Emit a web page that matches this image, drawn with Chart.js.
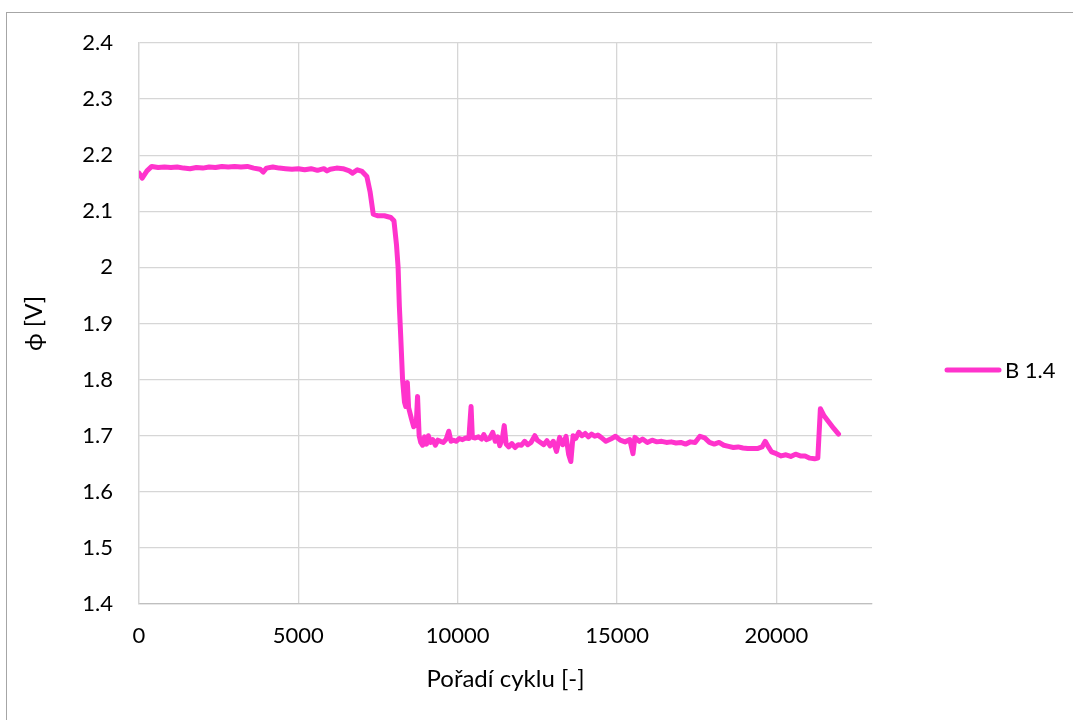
<!DOCTYPE html>
<html>
<head>
<meta charset="utf-8">
<script src="https://cdn.jsdelivr.net/npm/chart.js@4/dist/chart.umd.min.js"></script>
<style>
  html, body { margin: 0; padding: 0; background: #fff; overflow: hidden; }
  #wrap { position: relative; width: 1073px; height: 720px; }
  #frame { position: absolute; left: 6px; top: 12px; width: 2000px; height: 2000px;
           border-top: 1px solid #a6a6a6; border-left: 1px solid #a6a6a6; pointer-events: none; }
  canvas { position: absolute; left: 0; top: 0; }
</style>
</head>
<body>
<div id="wrap">
  <canvas id="c" width="1073" height="720"></canvas>
  <div id="frame"></div>
</div>
<script>
const seriesLabel = "B 1.4";
const xTitle = "Pořadí cyklu [-]";
const yTitle = "ϕ [V]";

const xTickValues = [0, 5000, 10000, 15000, 20000];

const cycles = [0,100,250,400,600,800,1000,1200,1400,1600,1800,2000,2200,2400,2600,2800,3000,3200,3400,3600,3800,3900,4000,4200,4400,4600,4800,5000,5200,5400,5600,5800,5900,6000,6200,6400,6600,6700,6850,7000,7150,7250,7350,7500,7700,7900,8000,8080,8130,8170,8210,8270,8330,8370,8420,8460,8550,8620,8700,8740,8790,8840,8900,8960,9020,9080,9150,9220,9300,9380,9460,9550,9640,9720,9790,9870,9950,10050,10150,10250,10350,10420,10460,10550,10650,10750,10820,10900,11000,11100,11180,11260,11320,11400,11460,11520,11600,11700,11800,11900,12000,12100,12200,12300,12420,12500,12600,12700,12800,12900,13000,13100,13200,13300,13400,13480,13550,13620,13700,13800,13900,14000,14100,14200,14300,14400,14500,14650,14800,14950,15100,15250,15400,15500,15560,15700,15800,15950,16100,16250,16400,16550,16700,16850,17000,17150,17300,17450,17600,17750,17900,18050,18200,18350,18500,18650,18800,18950,19100,19250,19400,19550,19650,19750,19850,20000,20150,20300,20450,20600,20750,20900,21050,21200,21300,21380,21500,21650,21800,21950];
const voltage = [2.168,2.159,2.172,2.180,2.178,2.179,2.178,2.179,2.177,2.176,2.178,2.177,2.179,2.178,2.180,2.179,2.180,2.179,2.180,2.177,2.175,2.170,2.177,2.179,2.177,2.176,2.175,2.176,2.174,2.176,2.173,2.176,2.172,2.175,2.177,2.176,2.172,2.168,2.174,2.171,2.162,2.135,2.095,2.092,2.092,2.089,2.083,2.040,2.000,1.930,1.880,1.800,1.760,1.752,1.795,1.750,1.730,1.716,1.720,1.770,1.700,1.688,1.683,1.698,1.685,1.700,1.688,1.693,1.683,1.692,1.690,1.688,1.694,1.708,1.690,1.692,1.690,1.695,1.693,1.696,1.695,1.752,1.697,1.696,1.698,1.694,1.702,1.693,1.695,1.706,1.690,1.698,1.682,1.695,1.718,1.685,1.680,1.686,1.679,1.684,1.683,1.690,1.684,1.688,1.700,1.692,1.688,1.684,1.691,1.682,1.690,1.672,1.697,1.684,1.699,1.667,1.654,1.700,1.695,1.706,1.700,1.704,1.698,1.703,1.699,1.701,1.697,1.690,1.694,1.699,1.692,1.689,1.693,1.668,1.697,1.690,1.694,1.688,1.692,1.689,1.690,1.688,1.689,1.687,1.688,1.685,1.689,1.688,1.699,1.696,1.688,1.685,1.688,1.683,1.681,1.679,1.680,1.678,1.677,1.677,1.677,1.680,1.690,1.680,1.671,1.668,1.664,1.666,1.663,1.667,1.664,1.664,1.660,1.659,1.660,1.748,1.735,1.724,1.713,1.703];

const xMin = 0, xMax = 23000;
const yMin = 1.4, yMax = 2.4, yStep = 0.1;

const FONT = "Lato, 'Open Sans', sans-serif";
const lineColor = "#ff33cc";

const legendPlugin = {
  id: 'sideLegend',
  afterDraw(chart) {
    const ctx = chart.ctx;
    const ds = chart.data.datasets[0];
    const y = 370;
    ctx.save();
    ctx.strokeStyle = ds.borderColor;
    ctx.lineWidth = 5;
    ctx.lineCap = 'round';
    ctx.beginPath();
    ctx.moveTo(947, y);
    ctx.lineTo(999, y);
    ctx.stroke();
    ctx.fillStyle = '#000';
    ctx.font = "22px " + FONT;
    ctx.textBaseline = 'middle';
    ctx.textAlign = 'left';
    ctx.fillText(ds.label, 1005, y + 1);
    ctx.restore();
  }
};

new Chart(document.getElementById('c'), {
  type: 'line',
  data: {
    datasets: [{
      label: seriesLabel,
      data: cycles.map((c, i) => ({ x: c, y: voltage[i] })),
      borderColor: lineColor,
      backgroundColor: lineColor,
      borderWidth: 5,
      pointRadius: 0,
      tension: 0,
      borderJoinStyle: 'round',
      borderCapStyle: 'round'
    }]
  },
  options: {
    responsive: false,
    animation: false,
    devicePixelRatio: 1,
    layout: { padding: { left: 0, right: 201, top: 43, bottom: 0 } },
    plugins: { legend: { display: false }, tooltip: { enabled: false } },
    scales: {
      x: {
        type: 'linear',
        min: xMin, max: xMax,
        afterBuildTicks(scale) { scale.ticks = xTickValues.map(v => ({ value: v })); },
        afterFit(scale) { scale.height = 116; },
        ticks: { autoSkip: false, color: '#000', font: { family: FONT, size: 22 }, padding: 19, maxRotation: 0,
                 callback: v => String(v) },
        grid: { color: '#d6d6d6', lineWidth: 1.3, drawTicks: false },
        border: { color: '#bfbfbf', width: 1.3 },
        title: { display: true, text: xTitle, color: '#000', font: { family: FONT, size: 24 }, padding: { top: 0, bottom: 26 } }
      },
      y: {
        min: yMin, max: yMax,
        afterFit(scale) { scale.width = 139; },
        ticks: { stepSize: yStep, color: '#000', font: { family: FONT, size: 22 }, padding: 26,
                 callback: v => String(Number(v.toFixed(1))) },
        grid: { color: '#d6d6d6', lineWidth: 1.3, drawTicks: false },
        border: { color: '#d6d6d6', width: 1.3 },
        title: { display: true, text: yTitle, color: '#000', font: { family: FONT, size: 24 }, padding: { top: 20, bottom: 0 } }
      }
    }
  },
  plugins: [legendPlugin]
});
</script>
</body>
</html>
